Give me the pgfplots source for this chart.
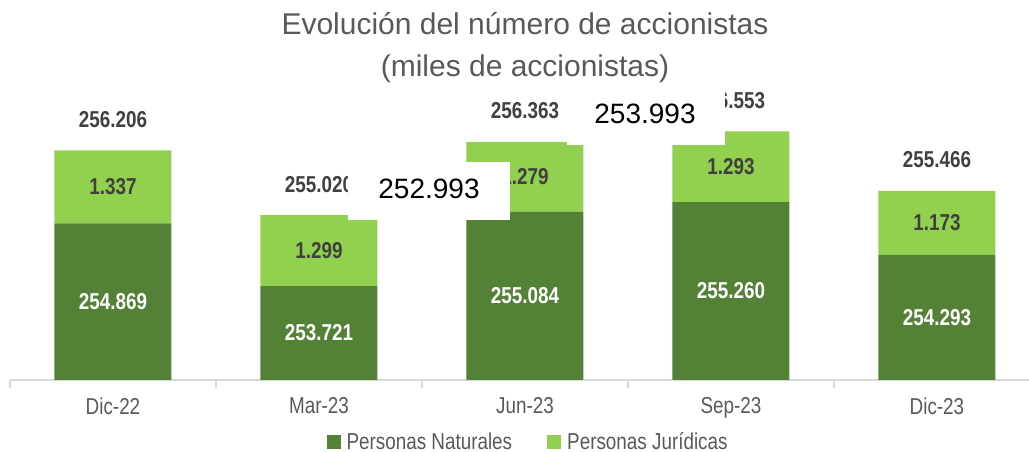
\documentclass[border=0pt]{standalone}
\usepackage{pgfplots}
\pgfplotsset{compat=1.18}
\usepackage{fontspec}
\setmainfont{Liberation Sans}[FakeStretch=0.82]
\newfontfamily\titlefont{Liberation Sans}
\definecolor{dgreen}{HTML}{538135}
\definecolor{lgreen}{HTML}{92D050}
\definecolor{lab}{HTML}{404040}
\definecolor{tgray}{HTML}{595959}
\definecolor{agray}{HTML}{D9D9D9}
\begin{document}
\begin{tikzpicture}[x=1pt,y=1pt]
\tikzset{dl/.style={font=\bfseries\fontsize{23}{27}\selectfont, text=white},
         ll/.style={font=\bfseries\fontsize{23}{27}\selectfont, text=lab},
         tl/.style={font=\bfseries\fontsize{23}{27}\selectfont, text=lab, anchor=base, yshift=23pt}}
\begin{axis}[
  at={(10pt,72pt)}, anchor=south west,
  scale only axis, width=1030pt, height=300.3pt,
  xmin=-0.5, xmax=4.5, ymin=252, ymax=257.5,
  ybar stacked, bar width=117pt,
  axis x line*=bottom, axis y line=none,
  tick align=outside,
  xtick={0,...,4}, xticklabels={Dic-22,Mar-23,Jun-23,Sep-23,Dic-23},
  major x tick style={draw=none},
  extra x ticks={-0.5,0.5,1.5,2.5,3.5,4.5}, extra x tick labels={},
  extra x tick style={major tick length=8pt, major x tick style={draw=agray, line width=1.2pt}},
  x axis line style={draw=agray, line width=1.5pt, -},
  xticklabel style={font=\fontsize{23}{27}\selectfont, text=tgray, yshift=-10pt},
  legend style={at={(0.503,-0.207)}, anchor=center, draw=none, fill=none,
    legend columns=2, font=\fontsize{23}{27}\selectfont, text=tgray,
    /tikz/every even column/.append style={column sep=33pt}},
  legend image code/.code={\fill[#1] (0pt,-7pt) rectangle (14pt,7pt); \path (0pt,0pt) -- (18pt,0pt);},
]
\addplot[fill=dgreen, draw=none] coordinates {(0,254.869) (1,253.721) (2,255.084) (3,255.260) (4,254.293)};
\addplot[fill=lgreen, draw=none] coordinates {(0,1.337) (1,1.299) (2,1.279) (3,1.293) (4,1.173)};
\legend{Personas Naturales, Personas Jurídicas}
\coordinate (d0) at (axis cs:0,253.4345);
\coordinate (d1) at (axis cs:1,252.8605);
\coordinate (d2) at (axis cs:2,253.542);
\coordinate (d3) at (axis cs:3,253.63);
\coordinate (d4) at (axis cs:4,253.1465);
\coordinate (l0) at (axis cs:0,255.5375);
\coordinate (l1) at (axis cs:1,254.3705);
\coordinate (l2) at (axis cs:2,255.7235);
\coordinate (l3) at (axis cs:3,255.9065);
\coordinate (l4) at (axis cs:4,254.8795);
\coordinate (t0) at (axis cs:0,256.206);
\coordinate (t1) at (axis cs:1,255.020);
\coordinate (t2) at (axis cs:2,256.363);
\coordinate (t3) at (axis cs:3,256.553);
\coordinate (t4) at (axis cs:4,255.466);
\end{axis}
\node[dl] at (d0) {254.869};
\node[dl] at (d1) {253.721};
\node[dl] at (d2) {255.084};
\node[dl] at (d3) {255.260};
\node[dl] at (d4) {254.293};
\node[ll] at (l0) {1.337};
\node[ll] at (l1) {1.299};
\node[ll] at (l2) {1.279};
\node[ll] at (l3) {1.293};
\node[ll] at (l4) {1.173};
\node[tl] at (t0) {256.206};
\node[tl] at (t1) {255.020};
\node[tl] at (t2) {256.363};
\node[tl] at (t3) {256.553};
\node[tl] at (t4) {255.466};
\node[font=\titlefont\fontsize{30}{36}\selectfont, text=tgray, anchor=base] at (525,417) {Evolución del número de accionistas};
\node[font=\titlefont\fontsize{30}{36}\selectfont, text=tgray, anchor=base] at (525,375) {(miles de accionistas)};
\fill[white] (348,232) rectangle (510,290);
\node[font=\titlefont\fontsize{28}{34}\selectfont, text=black] at (429,263) {252.993};
\fill[white] (567,307) rectangle (725,363);
\node[font=\titlefont\fontsize{28}{34}\selectfont, text=black] at (645,338) {253.993};
\pgfresetboundingbox
\useasboundingbox (0,0) rectangle (1029,452);
\end{tikzpicture}
\end{document}
